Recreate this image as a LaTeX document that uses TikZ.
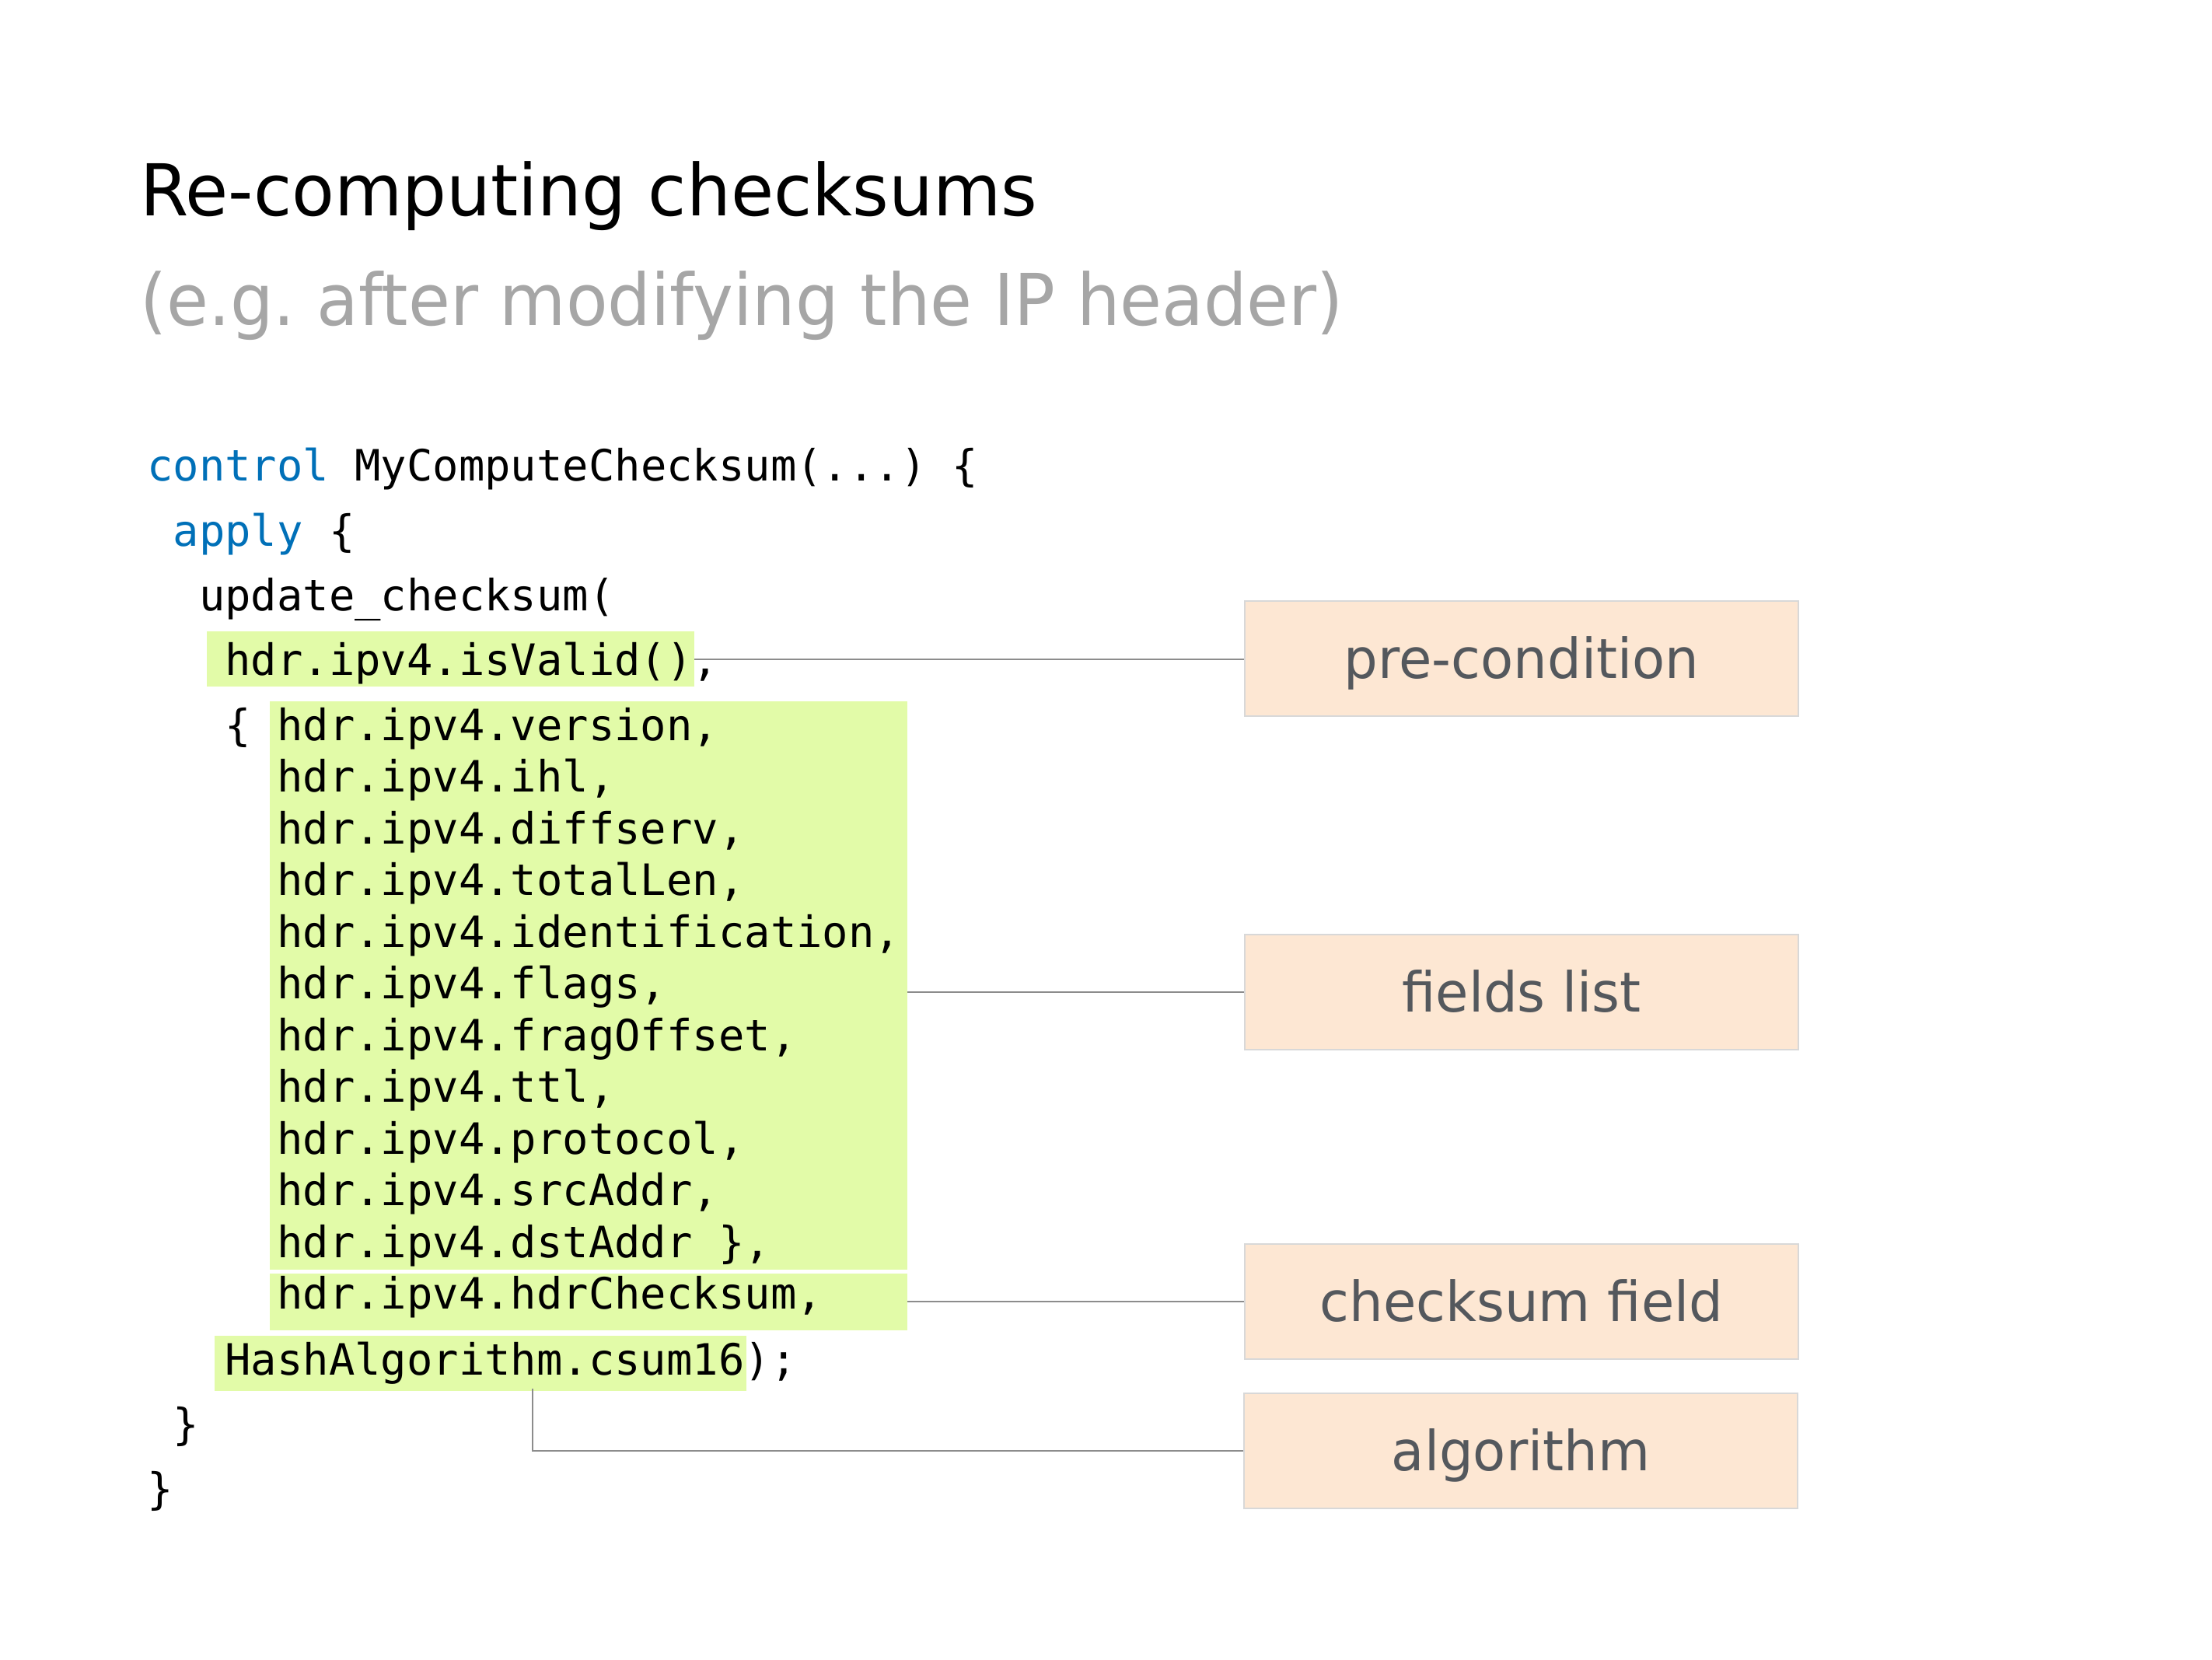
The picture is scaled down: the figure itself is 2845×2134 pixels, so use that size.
\documentclass[tikz,border=0pt]{standalone}
\usepackage{fontspec}
\setmainfont{DejaVu Sans}
\newfontfamily\ttlfont[FakeStretch=0.975]{DejaVu Sans}
\newfontfamily\subfont[FakeStretch=0.953]{DejaVu Sans}
\newfontfamily\lblfont[FakeStretch=0.97]{DejaVu Sans}
\newfontfamily\cdfont{DejaVu Sans Mono}
\frenchspacing
\definecolor{kw}{RGB}{0,112,184}
\definecolor{subgray}{RGB}{166,166,166}
\definecolor{hlgreen}{RGB}{226,251,168}
\definecolor{peach}{RGB}{253,231,211}
\definecolor{boxborder}{RGB}{216,216,216}
\definecolor{lbltext}{RGB}{84,88,93}
\definecolor{conngray}{RGB}{140,140,140}
\tikzset{
  code/.style={anchor=base west, inner sep=0pt, font=\cdfont\fontsize{55.5}{66.5}\selectfont},
  hlbox/.style={fill=hlgreen, draw=none, inner sep=0pt, anchor=north west},
  lbox/.style={fill=peach, draw=boxborder, line width=2pt, inner sep=0pt, anchor=north west,
    minimum width=712pt, minimum height=148pt, text height=60pt, text depth=10pt,
    text=lbltext, font=\lblfont\fontsize{71}{80}\selectfont},
  conn/.style={draw=conngray, line width=2.2pt}
}
\begin{document}
\begin{tikzpicture}[x=1pt,y=-1pt]
\useasboundingbox (0,0) rectangle (2845,2134);
\fill[white] (0,0) rectangle (2845,2134);
% titles
\node[anchor=base west, inner sep=0pt, font=\ttlfont\fontsize{92}{110}\selectfont] (title) at (180,277) {Re-computing checksums};
\node[anchor=base west, inner sep=0pt, text=subgray, font=\subfont\fontsize{92}{110}\selectfont] (subtitle) at (180,418) {(e.g. after modifying the IP header)};
% highlights
\node[hlbox, minimum width=627pt, minimum height=71pt] (hlValid) at (266,812) {};
\node[hlbox, minimum width=820pt, minimum height=731pt] (hlFields) at (347,902) {};
\node[hlbox, minimum width=820pt, minimum height=73pt] (hlCsum) at (347,1638) {};
\node[hlbox, minimum width=684pt, minimum height=71pt] (hlAlgo) at (276,1718) {};
% code
\node[code] (c1) at (189,618) {\textcolor{kw}{control} MyComputeChecksum(...) \{};
\node[code] (c2) at (222.4,702) {\textcolor{kw}{apply} \{};
\node[code] (c3) at (255.8,785) {update\_checksum(};
\node[code] (c4) at (289.2,868) {hdr.ipv4.isValid(),};
\node[code] (c5) at (289.2,952) {\{ hdr.ipv4.version,};
\node[code] (c6) at (356,1018.5) {hdr.ipv4.ihl,};
\node[code] (c7) at (356,1085) {hdr.ipv4.diffserv,};
\node[code] (c8) at (356,1151.5) {hdr.ipv4.totalLen,};
\node[code] (c9) at (356,1218) {hdr.ipv4.identification,};
\node[code] (c10) at (356,1284.5) {hdr.ipv4.flags,};
\node[code] (c11) at (356,1351) {hdr.ipv4.fragOffset,};
\node[code] (c12) at (356,1417.5) {hdr.ipv4.ttl,};
\node[code] (c13) at (356,1484) {hdr.ipv4.protocol,};
\node[code] (c14) at (356,1550.5) {hdr.ipv4.srcAddr,};
\node[code] (c15) at (356,1617) {hdr.ipv4.dstAddr \},};
\node[code] (c16) at (356,1683.5) {hdr.ipv4.hdrChecksum,};
\node[code] (c17) at (289.2,1768) {HashAlgorithm.csum16);};
\node[code] (c18) at (222.4,1851) {\}};
\node[code] (c19) at (189,1934) {\}};
% label boxes
\node[lbox] (lPre) at (1600,772) {pre-condition};
\node[lbox] (lFields) at (1600,1201) {fields list};
\node[lbox] (lCsum) at (1600,1599) {checksum field};
\node[lbox] (lAlgo) at (1599,1791) {algorithm};
% connectors
\draw[conn] (hlValid.east) -- (hlValid.east -| lPre.west);
\draw[conn] (lFields.west -| hlFields.east) -- (lFields.west);
\draw[conn] (lCsum.west -| hlCsum.east) -- (lCsum.west);
\coordinate (aTap) at (685,1786);
\draw[conn] (aTap) |- (lAlgo.west);
\end{tikzpicture}
\end{document}
